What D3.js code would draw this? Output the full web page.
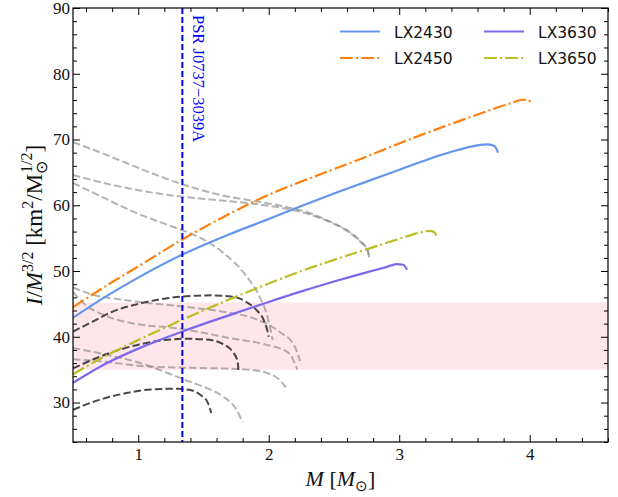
<!DOCTYPE html>
<html>
<head>
<meta charset="utf-8">
<script src="https://cdn.jsdelivr.net/npm/d3@7/dist/d3.min.js"></script>
<style>
  body { margin: 0; background: #ffffff; }
  svg text { fill: #111; }
</style>
</head>
<body>
<svg id="chart" width="618" height="497"></svg>
<script>
// ---- data: I/M^{3/2} versus M for each equation of state ----
const lx2430 = [[0.5,42.9],[0.75,46.1],[1.0,49.0],[1.338,52.5],[1.7,55.6],[2.0,57.9],[2.25,59.9],[2.5,61.8],[2.75,63.6],[3.0,65.4],[3.25,67.2],[3.45,68.4],[3.6,69.1],[3.68,69.25],[3.73,69.0],[3.757,68.0]];
const lx2450 = [[0.5,44.5],[0.75,47.7],[1.0,50.7],[1.338,54.8],[1.7,58.7],[2.0,61.6],[2.25,63.6],[2.5,65.5],[2.75,67.4],[3.0,69.4],[3.25,71.3],[3.5,73.1],[3.7,74.5],[3.85,75.5],[3.95,76.05],[3.99,76.0],[4.01,75.4]];
const lx3630 = [[0.5,33.0],[0.75,35.9],[1.0,38.2],[1.338,40.8],[1.7,43.3],[2.0,45.3],[2.25,46.9],[2.5,48.4],[2.75,49.8],[2.9,50.6],[2.98,51.05],[3.03,50.95],[3.06,50.2]];
const lx3650 = [[0.5,34.3],[0.75,37.1],[1.0,39.5],[1.338,42.6],[1.7,45.7],[2.0,48.1],[2.25,50.0],[2.5,51.7],[2.75,53.3],[3.0,54.9],[3.15,55.8],[3.23,56.1],[3.27,55.9],[3.285,55.3]];

// comparison hadronic EOS (light grey)
const grayA = [[0.5,69.6],[0.7,68.1],[0.9,66.5],[1.1,64.9],[1.338,63.2],[1.6,61.7],[1.9,60.6],[2.1,59.9],[2.3,58.9],[2.45,57.7],[2.6,56.2],[2.7,54.6],[2.76,53.0],[2.77,52.0]];
const grayB = [[0.5,64.6],[0.8,63.1],[1.0,62.3],[1.338,61.3],[1.6,60.8],[1.9,60.2],[2.1,59.6],[2.3,58.7],[2.45,57.6],[2.6,56.1],[2.7,54.5],[2.76,53.0],[2.77,52.0]];
const grayC = [[0.5,63.4],[0.75,61.0],[1.0,58.7],[1.2,57.2],[1.338,56.2],[1.45,55.3],[1.65,52.8],[1.83,49.2],[1.93,46.1],[1.99,43.1],[2.03,39.5]];
const grayD = [[0.5,47.5],[0.65,46.4],[0.85,45.7],[1.05,45.2],[1.338,44.6],[1.65,43.8],[1.9,42.7],[2.08,40.8],[2.2,38.5],[2.24,36.3]];
const grayE = [[0.5,46.8],[0.6,44.8],[0.75,43.2],[1.0,41.9],[1.25,41.4],[1.5,40.6],[1.7,39.8],[1.98,38.8],[2.15,37.6],[2.22,35.0]];
const grayF = [[0.5,36.6],[0.75,36.2],[1.0,35.6],[1.338,35.3],[1.6,35.2],[1.85,35.0],[2.0,34.4],[2.08,33.5],[2.13,32.3]];
const grayG = [[0.5,38.3],[0.75,37.3],[1.0,36.1],[1.2,34.7],[1.338,33.6],[1.5,32.4],[1.65,30.9],[1.75,29.0],[1.8,27.0]];

// strange-star sequences (dark grey)
const darkA = [[0.5,40.8],[0.65,42.3],[0.8,43.8],[1.0,45.0],[1.2,45.8],[1.4,46.2],[1.57,46.3],[1.72,46.1],[1.82,45.4],[1.9,44.2],[1.96,42.6],[1.99,40.9],[2.0,40.0]];
const darkB = [[0.5,35.2],[0.75,37.3],[1.0,38.8],[1.2,39.5],[1.35,39.7],[1.52,39.6],[1.65,38.9],[1.72,37.8],[1.76,36.4],[1.77,34.5]];
const darkC = [[0.5,28.9],[0.7,30.4],[0.9,31.4],[1.1,32.0],[1.3,32.1],[1.4,31.9],[1.48,31.1],[1.53,30.1],[1.56,28.4]];

const grayCurves = [grayA, grayB, grayC, grayD, grayE, grayF, grayG];
const darkCurves = [darkA, darkB, darkC];

const seriesNames = ["LX2430", "LX2450", "LX3630", "LX3650"];
const seriesData = [lx2430, lx2450, lx3630, lx3650];

// PSR J0737-3039A mass and the constrained band
const pulsarMass = 1.338;
const pulsarLabel = "PSR J0737\u22123039A";
const bandRange = [35.0, 45.2];

const xMajorTicks = [1, 2, 3, 4];
const yMajorTicks = [30, 40, 50, 60, 70, 80, 90];

// ---- layout ----
const W = 618, H = 497;
const margin = { left: 73, right: 10, top: 8, bottom: 55 };
const svg = d3.select("#chart");

const x = d3.scaleLinear().domain([0.5, 4.6]).range([margin.left, W - margin.right]);
const y = d3.scaleLinear().domain([24, 90]).range([H - margin.bottom, margin.top]);

const styles = {
  LX2430: { color: "#6495ed", dash: null },
  LX2450: { color: "#ff7f0e", dash: "12.8,3.2,2,3.2" },
  LX3630: { color: "#7b68ee", dash: null },
  LX3650: { color: "#bcbd22", dash: "12.8,3.2,2,3.2" }
};

const line = d3.line().x(d => x(d[0])).y(d => y(d[1])).curve(d3.curveMonotoneX);

svg.append("clipPath").attr("id", "plotclip")
  .append("rect")
  .attr("x", x(0.5)).attr("y", y(90))
  .attr("width", x(4.6) - x(0.5)).attr("height", y(24) - y(90));

const plot = svg.append("g").attr("clip-path", "url(#plotclip)");

// shaded band
plot.append("rect")
  .attr("x", x(0.5)).attr("width", x(4.6) - x(0.5))
  .attr("y", y(bandRange[1])).attr("height", y(bandRange[0]) - y(bandRange[1]))
  .attr("fill", "#ffc0cb").attr("fill-opacity", 0.4);

// light grey EOS
plot.selectAll("path.gray").data(grayCurves).join("path")
  .attr("class", "gray")
  .attr("d", line)
  .attr("fill", "none")
  .attr("stroke", "#808080").attr("stroke-opacity", 0.6)
  .attr("stroke-width", 2)
  .attr("stroke-dasharray", "7.4,3.2");

// dark grey sequences
plot.selectAll("path.dark").data(darkCurves).join("path")
  .attr("class", "dark")
  .attr("d", line)
  .attr("fill", "none")
  .attr("stroke", "#1a1a1a").attr("stroke-opacity", 0.8)
  .attr("stroke-width", 2)
  .attr("stroke-dasharray", "7.4,3.2");

// coloured models
seriesNames.forEach((name, i) => {
  plot.append("path")
    .datum(seriesData[i])
    .attr("d", line)
    .attr("fill", "none")
    .attr("stroke", styles[name].color)
    .attr("stroke-width", 2.2)
    .attr("stroke-dasharray", styles[name].dash);
});

// pulsar mass marker
plot.append("line")
  .attr("x1", x(pulsarMass)).attr("x2", x(pulsarMass))
  .attr("y1", y(90)).attr("y2", y(24))
  .attr("stroke", "#0000ff").attr("stroke-width", 2)
  .attr("stroke-dasharray", "6,3");

svg.append("text")
  .attr("transform", `translate(${x(pulsarMass) + 11},${y(90) + 7}) rotate(90)`)
  .attr("font-family", "Liberation Serif, serif")
  .attr("font-size", 16.5)
  .style("fill", "#0000ff")
  .text(pulsarLabel);

// ---- axes ----
const xMinor = d3.range(0.6, 4.6001, 0.2).map(v => +v.toFixed(2)).filter(v => !xMajorTicks.includes(v));
const yMinor = d3.range(24, 90.001, 2).filter(v => v % 10 !== 0);

function drawAxis(axisFn, scale, majors, minors, transform, labels) {
  const g = svg.append("g").attr("transform", transform);
  g.call(axisFn(scale).tickValues(minors).tickSize(-4).tickSizeOuter(0).tickFormat(""));
  g.selectAll(".domain").remove();
  const g2 = svg.append("g").attr("transform", transform);
  g2.call(axisFn(scale).tickValues(majors).tickSize(-7).tickSizeOuter(0)
    .tickPadding(labels ? 6 : 0).tickFormat(labels ? d3.format("d") : ""));
  g2.selectAll(".domain").remove();
  g.selectAll("line").attr("stroke", "#000").attr("stroke-width", 1);
  g2.selectAll("line").attr("stroke", "#000").attr("stroke-width", 1);
  g2.selectAll("text").attr("font-family", "Liberation Serif, serif").attr("font-size", 17).style("fill", "#111");
  return g2;
}

drawAxis(d3.axisBottom, x, xMajorTicks, xMinor, `translate(0,${y(24)})`, true);
drawAxis(d3.axisTop, x, xMajorTicks, xMinor, `translate(0,${y(90)})`, false);
const yl = drawAxis(d3.axisLeft, y, yMajorTicks, yMinor, `translate(${x(0.5)},0)`, true);
yl.selectAll("text").attr("x", -3);
drawAxis(d3.axisRight, y, yMajorTicks, yMinor, `translate(${x(4.6)},0)`, false);

// frame
svg.append("rect")
  .attr("x", x(0.5)).attr("y", y(90))
  .attr("width", x(4.6) - x(0.5)).attr("height", y(24) - y(90))
  .attr("fill", "none").attr("stroke", "#000").attr("stroke-width", 1.2);

// axis titles
const serif = "Liberation Serif, serif";
const xt = svg.append("text")
  .attr("x", (x(0.5) + x(4.6)) / 2).attr("y", 486)
  .attr("text-anchor", "middle")
  .attr("font-family", serif).attr("font-size", 22);
xt.append("tspan").attr("font-style", "italic").text("M");
xt.append("tspan").text(" [");
xt.append("tspan").attr("font-style", "italic").text("M");
xt.append("tspan").attr("font-size", 15).attr("dy", 5).text("\u2299");
xt.append("tspan").attr("dy", -5).text("]");

const yt = svg.append("text")
  .attr("transform", `translate(42,${(y(24) + y(90)) / 2}) rotate(-90)`)
  .attr("text-anchor", "middle")
  .attr("font-family", serif).attr("font-size", 23);
yt.append("tspan").attr("font-style", "italic").text("I");
yt.append("tspan").text("/");
yt.append("tspan").attr("font-style", "italic").text("M");
yt.append("tspan").attr("font-size", 16).attr("dy", -9).text("3/2");
yt.append("tspan").attr("dy", 9).text(" [km");
yt.append("tspan").attr("font-size", 16).attr("dy", -9).text("2");
yt.append("tspan").attr("dy", 9).text("/M");
yt.append("tspan").attr("font-size", 16).attr("dy", 5).text("\u2299");
yt.append("tspan").attr("font-size", 16).attr("dx", -12).attr("dy", -15).text("1/2");
yt.append("tspan").attr("dy", 10).text("]");

// ---- legend ----
const legendPos = [
  { lx: 340, ly: 31.5 }, { lx: 340, ly: 58 },
  { lx: 484, ly: 31.5 }, { lx: 484, ly: 58 }
];
const legend = svg.append("g");
seriesNames.forEach((name, i) => {
  const p = legendPos[i];
  legend.append("line")
    .attr("x1", p.lx).attr("x2", p.lx + 40)
    .attr("y1", p.ly).attr("y2", p.ly)
    .attr("stroke", styles[name].color).attr("stroke-width", 2.2)
    .attr("stroke-dasharray", styles[name].dash);
  legend.append("text")
    .attr("x", p.lx + 54).attr("y", p.ly + 6)
    .attr("font-family", "DejaVu Sans, sans-serif").attr("font-size", 15.5)
    .style("fill", "#111")
    .text(name);
});
</script>
</body>
</html>
